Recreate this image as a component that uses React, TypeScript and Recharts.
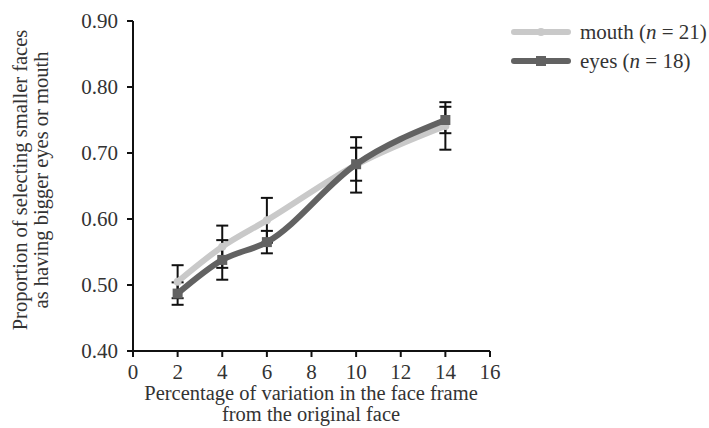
import React from "react"
import { ComposedChart, Line, XAxis, YAxis, ErrorBar } from "recharts"

const levels = [2, 4, 6, 10, 14]
const mouthMean = [0.505, 0.558, 0.598, 0.682, 0.741]
const mouthErr = [0.025, 0.032, 0.034, 0.042, 0.036]
const eyesMean = [0.487, 0.538, 0.565, 0.683, 0.75]
const eyesErr = [0.017, 0.03, 0.017, 0.025, 0.02]
const xTicks = [0, 2, 4, 6, 8, 10, 12, 14, 16]
const yTicks = [0.4, 0.5, 0.6, 0.7, 0.8, 0.9]

const FONT = "'Liberation Serif', 'Times New Roman', serif"
const MOUTH = "#c9c9c9"
const EYES = "#626262"

const data = levels.map((x, i) => ({
  x,
  mouth: mouthMean[i],
  mouthErr: mouthErr[i],
  eyes: eyesMean[i],
  eyesErr: eyesErr[i],
}))

function SquareDot(props: any) {
  const { cx, cy } = props
  if (cx == null || cy == null) return null
  return <rect x={cx - 5} y={cy - 5} width={10} height={10} fill={EYES} />
}

function SmallDot(props: any) {
  const { cx, cy } = props
  if (cx == null || cy == null) return null
  return <circle cx={cx} cy={cy} r={4} fill={MOUTH} />
}

function YLabel() {
  const cy = 180
  return (
    <g fontFamily={FONT} fontSize={20.5} fill="#333">
      <text x={20} y={cy} textAnchor="middle" dominantBaseline="central" transform={`rotate(-90, 20, ${cy})`}>
        Proportion of selecting smaller faces
      </text>
      <text x={41} y={cy} textAnchor="middle" dominantBaseline="central" transform={`rotate(-90, 41, ${cy})`}>
        as having bigger eyes or mouth
      </text>
    </g>
  )
}

function XLabel() {
  const cx = 311
  return (
    <g fontFamily={FONT} fontSize={20.5} fill="#333">
      <text x={cx} y={393} textAnchor="middle" dominantBaseline="central">
        Percentage of variation in the face frame
      </text>
      <text x={cx} y={414} textAnchor="middle" dominantBaseline="central">
        from the original face
      </text>
    </g>
  )
}

function LegendBox() {
  const rows = [
    { name: "mouth", n: 21, color: MOUTH, square: false },
    { name: "eyes", n: 18, color: EYES, square: true },
  ]
  return (
    <svg width={219} height={80} style={{ position: "absolute", left: 490, top: 0 }}>
      {rows.map((r, i) => {
        const y = 32 + i * 29
        return (
          <g key={r.name}>
            <line x1={24} x2={78} y1={y} y2={y} stroke={r.color} strokeWidth={6} strokeLinecap="round" />
            {r.square ? (
              <rect x={46} y={y - 5} width={10} height={10} fill={r.color} />
            ) : (
              <circle cx={51} cy={y} r={4} fill={r.color} />
            )}
            <text x={90} y={y} dominantBaseline="central" fontFamily={FONT} fontSize={21} fill="#333">
              {r.name} (<tspan fontStyle="italic">n</tspan> = {r.n})
            </text>
          </g>
        )
      })}
    </svg>
  )
}

export default function App() {
  return (
    <div style={{ position: "absolute", left: 0, top: 0, width: 709, height: 428, background: "#fff" }}>
      <ComposedChart width={709} height={428} data={data} margin={{ top: 21, right: 219, bottom: 0, left: 0 }}>
        <XAxis
          type="number"
          dataKey="x"
          domain={[0, 16]}
          ticks={xTicks}
          height={77}
          stroke="#111"
          strokeWidth={2}
          tickSize={6}
          tickMargin={7}
          tick={{ fontFamily: FONT, fontSize: 21, fill: "#333" }}
          label={<XLabel />}
        />
        <YAxis
          type="number"
          domain={[0.4, 0.9]}
          ticks={yTicks}
          width={133}
          stroke="#111"
          strokeWidth={2}
          tickSize={6}
          tickMargin={9}
          tickFormatter={(v: number) => v.toFixed(2)}
          tick={{ fontFamily: FONT, fontSize: 21, fill: "#333" }}
          label={<YLabel />}
        />
        <Line
          dataKey="mouth"
          type="monotone"
          stroke={MOUTH}
          strokeWidth={6}
          strokeLinecap="round"
          dot={<SmallDot />}
          isAnimationActive={false}
        >
          <ErrorBar dataKey="mouthErr" direction="y" width={6} stroke="#111" strokeWidth={2} />
        </Line>
        <Line
          dataKey="eyes"
          type="monotone"
          stroke={EYES}
          strokeWidth={6}
          strokeLinecap="round"
          dot={<SquareDot />}
          isAnimationActive={false}
        >
          <ErrorBar dataKey="eyesErr" direction="y" width={6} stroke="#111" strokeWidth={2} />
        </Line>
      </ComposedChart>
      <LegendBox />
    </div>
  )
}
